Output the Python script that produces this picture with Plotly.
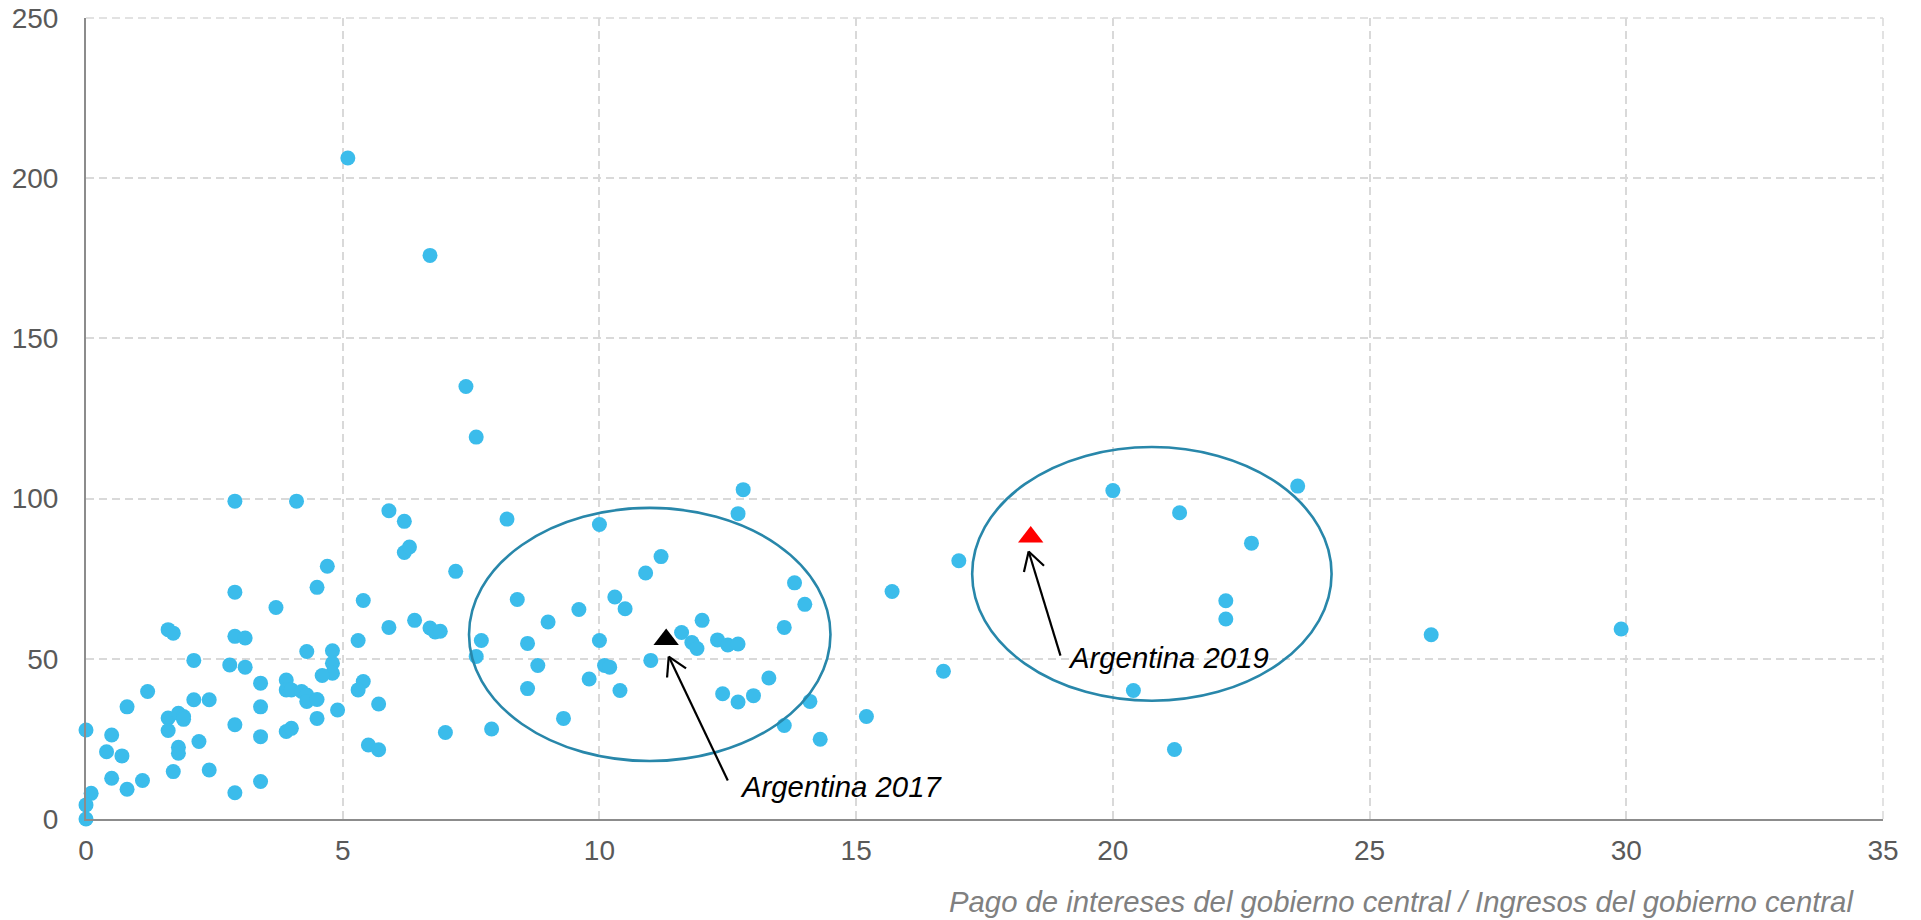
import math
import plotly.graph_objects as go

# ---- data ----
x_vals = [2.9, 4.1, 5.9, 6.2, 6.2, 6.3, 4.7, 7.2, 8.2, 10.0, 11.2, 10.9, 4.5, 2.9, 5.4, 8.4, 10.3, 10.5, 9.6, 3.7,
          6.4, 5.9, 6.7, 6.8, 6.9, 9.0, 1.6, 1.7, 2.9, 3.1, 5.3, 7.7, 8.6, 10.0, 7.6, 11.0, 4.3, 4.8, 4.8, 4.8,
          2.1, 2.8, 3.1, 8.8, 10.1, 10.2, 3.4, 3.9, 3.9, 4.0, 4.2, 4.3, 4.3, 4.5, 4.6, 5.4, 5.3, 5.7, 4.9, 4.5,
          3.4, 2.9, 3.9, 4.0, 3.4, 2.1, 2.4, 1.2, 0.8, 1.6, 1.8, 1.9, 1.9, 1.6, 2.2, 1.8, 1.8, 1.7, 2.4, 3.4,
          2.9, 7.0, 7.9, 9.3, 9.8, 8.6, 10.4, 5.5, 5.7, 0.0, 0.5, 0.4, 0.7, 0.5, 0.8, 1.1, 0.1, 0.0, 0.0,
          5.1, 6.7, 7.4, 7.6,
          12.8, 12.7, 13.8, 14.0, 13.6, 15.7, 17.0, 11.6, 12.0, 11.8, 11.9, 12.3, 12.5, 12.7, 13.3, 12.4, 12.7,
          13.0, 14.1, 13.6, 14.3, 15.2, 16.7,
          20.0, 23.6, 21.3, 22.7, 22.2, 22.2, 26.2, 29.9, 20.4, 21.2]
y_vals = [99.2, 99.2, 96.2, 92.9, 83.2, 84.9, 78.9, 77.3, 93.6, 91.9, 81.9, 76.8, 72.3, 70.8, 68.2, 68.5, 69.3, 65.6, 65.4, 66.0,
          62.0, 59.8, 59.6, 58.4, 58.6, 61.5, 59.1, 58.0, 57.0, 56.5, 55.7, 55.7, 54.8, 55.7, 50.7, 49.5, 52.3, 52.5, 48.6, 45.5,
          49.5, 48.1, 47.4, 47.9, 47.9, 47.4, 42.4, 43.4, 40.3, 40.3, 39.8, 38.7, 36.7, 37.3, 44.8, 42.9, 40.3, 35.9, 34.0, 31.4,
          35.0, 29.4, 27.3, 28.3, 25.7, 37.2, 37.2, 39.8, 35.0, 31.5, 33.0, 32.0, 31.1, 27.6, 24.2, 22.4, 20.5, 14.8, 15.3, 11.7,
          8.2, 27.0, 28.1, 31.4, 43.7, 40.7, 40.1, 23.1, 21.6, 27.8, 26.2, 21.0, 19.7, 12.7, 9.3, 12.0, 8.0, 4.4, 0.0,
          206.3, 175.9, 135.0, 119.2,
          102.8, 95.3, 73.7, 67.0, 59.8, 71.0, 80.6, 58.2, 62.0, 55.1, 53.2, 55.9, 54.3, 54.6, 44.0, 39.1, 36.5,
          38.5, 36.7, 29.2, 24.9, 32.0, 46.1,
          102.5, 103.9, 95.6, 86.1, 68.1, 62.4, 57.5, 59.3, 40.1, 21.7]

arg_labels = ["Argentina 2017", "Argentina 2019"]
arg_x = [11.3, 18.4]
arg_y = [56.0, 88.0]

# arrow tips / tails and label anchors (data units)
arrow_tip_x = [11.35, 18.36]
arrow_tip_y = [50.7, 83.5]
arrow_tail_x = [12.5, 18.98]
arrow_tail_y = [12.0, 51.0]
label_x = [12.7, 19.09]
label_y = [10.0, 50.3]

# ellipses: center x, center y, semi-axis x, semi-axis y
ell_cx = [10.98, 20.76]
ell_cy = [57.6, 76.5]
ell_rx = [3.52, 3.5]
ell_ry = [39.5, 39.6]

x_ticks = [0, 5, 10, 15, 20, 25, 30, 35]
y_ticks = [0, 50, 100, 150, 200, 250]
x_title = "Pago de intereses del gobierno central / Ingresos del gobierno central"

# ---- figure ----
W, H = 1921, 920
# plot area in page pixels
P_L, P_R, P_T, P_B = 86, 1883, 18, 819
ML, MR, MT, MB = P_L, W - P_R, P_T, H - P_B
XR, YR = (0, 35), (0, 250)
pxx = (P_R - P_L) / (XR[1] - XR[0])
pxy = (P_B - P_T) / (YR[1] - YR[0])

FONT = "Arial, Liberation Sans, sans-serif"
BLUE = "#3BBCEB"
ELL = "#2887AA"
GRID = "#D9D9D9"
DASH = "8px,5px"

fig = go.Figure()
fig.add_trace(go.Scatter(x=x_vals, y=y_vals, mode="markers",
                         marker=dict(color=BLUE, size=15, line=dict(width=0)),
                         cliponaxis=False, showlegend=False, hoverinfo="x+y"))
fig.add_trace(go.Scatter(x=arg_x, y=arg_y, mode="markers", text=arg_labels,
                         marker=dict(symbol="triangle-up", size=22, color=["#000000", "#FF0000"],
                                     line=dict(width=0)),
                         cliponaxis=False, showlegend=False))

shapes = [
    # dashed grid lines on the top / right borders of the plot area
    dict(type="line", xref="paper", yref="paper", x0=0, x1=1, y0=1, y1=1,
         line=dict(color=GRID, width=1.5, dash=DASH), layer="below"),
    dict(type="line", xref="paper", yref="paper", x0=1, x1=1, y0=0, y1=1,
         line=dict(color=GRID, width=1.5, dash=DASH), layer="below"),
]
for cx, cy, rx, ry in zip(ell_cx, ell_cy, ell_rx, ell_ry):
    shapes.append(dict(type="circle", xref="x", yref="y", x0=cx - rx, x1=cx + rx, y0=cy - ry, y1=cy + ry,
                       line=dict(color=ELL, width=2.6), layer="above"))

for tx, ty, sx, sy in zip(arrow_tip_x, arrow_tip_y, arrow_tail_x, arrow_tail_y):
    shapes.append(dict(type="line", xref="x", yref="y", x0=sx, y0=sy, x1=tx, y1=ty,
                       line=dict(color="black", width=2.2), layer="above"))
    # open V arrow head, computed in pixel space
    dx = (sx - tx) * pxx
    dy = (sy - ty) * pxy
    L = math.hypot(dx, dy)
    ux, uy = dx / L, dy / L
    for ang in (math.radians(30), math.radians(-30)):
        rx_ = ux * math.cos(ang) - uy * math.sin(ang)
        ry_ = ux * math.sin(ang) + uy * math.cos(ang)
        ex = tx + rx_ * 21 / pxx
        ey = ty + ry_ * 21 / pxy
        shapes.append(dict(type="line", xref="x", yref="y", x0=tx, y0=ty, x1=ex, y1=ey,
                           line=dict(color="black", width=2.2), layer="above"))

annotations = []
for t, lx, ly in zip(arg_labels, label_x, label_y):
    annotations.append(dict(x=lx, y=ly, xref="x", yref="y", text=t, showarrow=False,
                            xanchor="left", yanchor="middle",
                            font=dict(family=FONT, size=29.3, color="black", style="italic")))
annotations.append(dict(x=(1856 - P_L) / (P_R - P_L), y=(P_B - 901) / (P_B - P_T),
                        xref="paper", yref="paper", text=x_title, showarrow=False,
                        xanchor="right", yanchor="middle",
                        font=dict(family=FONT, size=29.3, color="#808080", style="italic")))

fig.update_layout(
    width=W, height=H,
    margin=dict(l=ML, r=MR, t=MT, b=MB, pad=0),
    paper_bgcolor="white", plot_bgcolor="white",
    shapes=shapes, annotations=annotations,
    font=dict(family=FONT, size=28, color="#595959"),
    showlegend=False,
)
fig.update_xaxes(range=list(XR), tickvals=x_ticks, ticktext=[str(v) for v in x_ticks],
                 showgrid=True, gridcolor=GRID, griddash=DASH, gridwidth=1.5,
                 zeroline=False, showline=True, linecolor="#8C8C8C", linewidth=2,
                 ticks="", ticklabelstandoff=5, automargin=False, ticklabeloverflow="allow",
                 tickfont=dict(family=FONT, size=28, color="#595959"))
fig.update_yaxes(range=list(YR), tickvals=y_ticks, ticktext=[str(v) for v in y_ticks],
                 showgrid=True, gridcolor=GRID, griddash=DASH, gridwidth=1.5,
                 zeroline=False, showline=True, linecolor="#8C8C8C", linewidth=2,
                 ticks="", ticklabelstandoff=20, automargin=False, ticklabeloverflow="allow",
                 tickfont=dict(family=FONT, size=28, color="#595959"))

fig.write_html("out.html", config={"displayModeBar": False},
               post_script="document.body.style.margin='0';document.body.style.overflow='hidden';")
